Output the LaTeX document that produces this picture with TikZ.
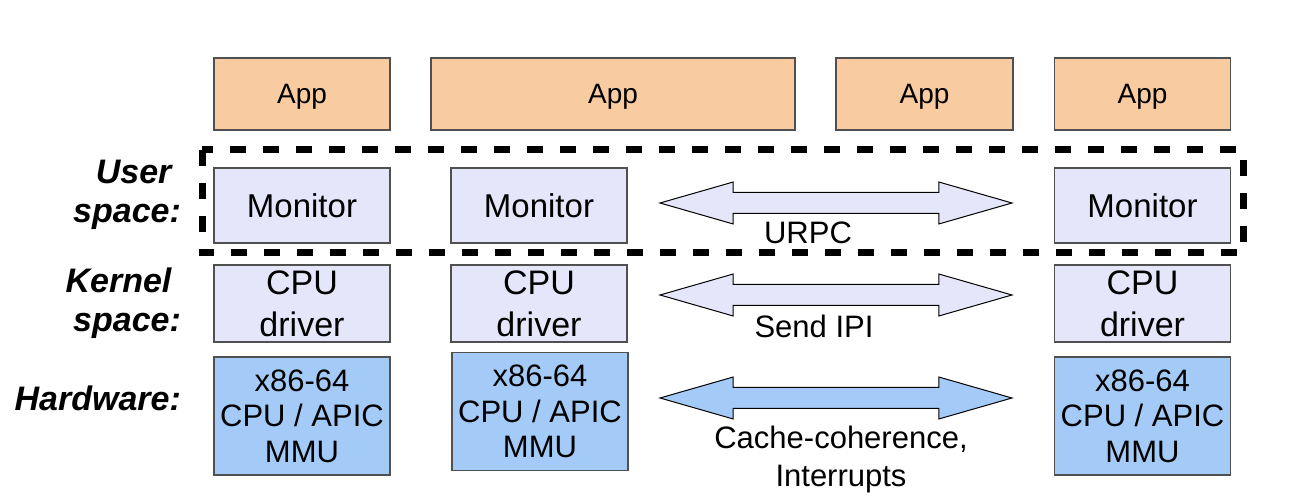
\documentclass[tikz,border=0pt]{standalone}
\usepackage{fontspec}
\setmainfont{Liberation Sans}
\usetikzlibrary{shapes.arrows}

\definecolor{appfill}{RGB}{248,203,160}
\definecolor{swfill}{RGB}{230,230,250}
\definecolor{hwfill}{RGB}{164,203,248}
\definecolor{boxline}{RGB}{80,80,80}

\begin{document}
\begin{tikzpicture}[x=0.5pt,y=-0.5pt,
  box/.style={draw=boxline,line width=0.6pt,inner sep=0pt,minimum width=88pt,align=center},
  app/.style={box,fill=appfill,minimum height=36pt,text depth=0pt,font=\fontsize{14}{16}\selectfont},
  monitor/.style={box,fill=swfill,minimum height=37.5pt,font=\fontsize{16.5}{20}\selectfont},
  driver/.style={box,fill=swfill,minimum height=38.5pt,font=\fontsize{17}{21}\selectfont},
  hw/.style={box,fill=hwfill,minimum height=59pt,font=\fontsize{15.5}{17.75}\selectfont},
  link/.style={double arrow,draw=black,line width=0.5pt,inner xsep=0pt,inner ysep=5pt,
    minimum height=176pt,minimum width=20.5pt,
    double arrow head extend=5.25pt,double arrow tip angle=32},
  linklabel/.style={align=center,font=\fontsize{15.5}{19}\selectfont},
  layer/.style={anchor=east,align=right,font=\fontsize{17}{19.5}\selectfont\bfseries\itshape}]

  \useasboundingbox (0,0) rectangle (1296,496);

  % apps
  \node[app] at (302,94) (app1) {App};
  \node[app,minimum width=182pt] at (613,94) (app2) {App};
  \node[app,minimum width=88.5pt] at (924.5,94) (app3) {App};
  \node[app] at (1142.5,94) (app4) {App};

  % user space
  \node[monitor] at (302,205.5) (mon1) {Monitor};
  \node[monitor] at (539,205.5) (mon2) {Monitor};
  \node[monitor] at (1142.5,205.5) (mon3) {Monitor};

  % kernel space
  \node[driver] at (302,303.5) (drv1) {CPU\\driver};
  \node[driver] at (539,303.5) (drv2) {CPU\\driver};
  \node[driver] at (1142.5,303.5) (drv3) {CPU\\driver};

  % hardware
  \node[hw] at (302,416) (hw1) {x86-64\\CPU / APIC\\MMU};
  \node[hw] at (540,411.5) (hw2) {x86-64\\CPU / APIC\\MMU};
  \node[hw] at (1142.5,416) (hw3) {x86-64\\CPU / APIC\\MMU};

  % channels
  \node[link,fill=swfill] at (836,203) (urpc) {};
  \node[link,fill=swfill] at (836,295) (ipi) {};
  \node[link,fill=hwfill] at (836,398) (cc) {};
  \node[linklabel] at (808,233) (urpclabel) {URPC};
  \node[linklabel] at (814,326) (ipilabel) {Send IPI};
  \node[linklabel] at (841,459) (cclabel) {Cache-coherence,\\Interrupts};

  % layers
  \node[layer] at (188,195) (userlayer) {User\hspace*{0.28em}\\space:};
  \node[layer] at (188,303) (kernellayer) {Kernel\hspace*{0.28em}\\space:};
  \node[layer] at (188,398) (hwlayer) {Hardware:};

  \draw[line width=3.5pt,dash pattern=on 8pt off 8.5pt] (202,150) rectangle (1243,253);

\end{tikzpicture}
\end{document}
